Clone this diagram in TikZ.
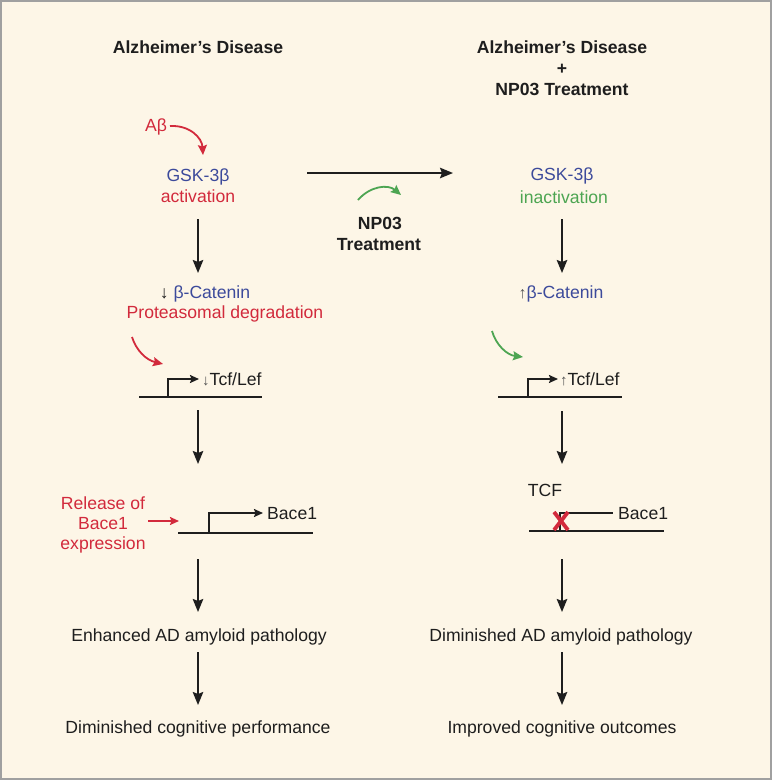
\documentclass[tikz,border=0pt]{standalone}
\usepackage{fontspec}
\setmainfont{Liberation Sans}
\usetikzlibrary{arrows.meta}
\definecolor{bgc}{HTML}{FDF6E7}
\definecolor{framec}{HTML}{A0A0A0}
\definecolor{cblue}{HTML}{3C4A9B}
\definecolor{cred}{HTML}{D22A3C}
\definecolor{cgreen}{HTML}{4DA552}
\definecolor{ctext}{HTML}{1E1E1E}
\definecolor{cgrey}{HTML}{555555}
\begin{document}
\begin{tikzpicture}[x=1pt,y=-1pt,
  lbl/.style={inner sep=0pt,anchor=base,text=ctext,font=\fontsize{17.6}{21}\selectfont},
  ttl/.style={lbl,font=\fontsize{17.6}{21}\selectfont\bfseries},
  flow/.style={draw=ctext,line width=1.8pt,-{Stealth[length=13pt,width=10.5pt,inset=2pt]}},
  curv/.style={line width=1.8pt,-{Stealth[length=10pt,width=9pt,inset=1.5pt]}},
  dna/.style={draw=ctext,line width=1.8pt},
  tss/.style={dna,-{Stealth[length=9pt,width=8pt,inset=1.5pt]}},
]
\fill[bgc] (0,0) rectangle (772,780);
\draw[framec,line width=2pt] (1,1) rectangle (771,779);
\useasboundingbox (0,0) rectangle (772,780);

% ---------- left column ----------
\node[ttl] (tL) at (198,53) {Alzheimer’s Disease};
\node[lbl,text=cred] (ab) at (156,131) {Aβ};
\node[lbl,text=cblue] (gskL) at (198,181) {GSK-3β};
\node[lbl,text=cred] (actL) at (198,202) {activation};
\node[lbl] (catL) at (205,298) {↓ \textcolor{cblue}{β-Catenin}};
\node[lbl,text=cred] (protL) at (225,318) {Proteasomal degradation};

\coordinate (abS) at (170,126);
\coordinate (abE) at (203,155);
\draw[curv,cred] (abS) .. controls (190,125) and (202,138) .. (abE);

\coordinate (fL1s) at (198,219); \coordinate (fL1e) at (198,273);
\draw[flow] (fL1s) -- (fL1e);

\coordinate (rdS) at (132,337); \coordinate (rdE) at (163,364);
\draw[curv,cred] (rdS) .. controls (136,350) and (146,360) .. (rdE);

\coordinate (dL1a) at (139,397); \coordinate (dL1b) at (262,397);
\draw[dna] (dL1a) -- (dL1b);
\coordinate (tssL1) at (168,397); \coordinate (tssL1e) at (199,379);
\draw[tss] (tssL1) |- (tssL1e);
\node[lbl,anchor=base west] (tcfL) at (202,385) {\textcolor{cgrey}{\fontsize{15}{15}\selectfont ↓}Tcf/Lef};

\coordinate (fL2s) at (198,410); \coordinate (fL2e) at (198,464);
\draw[flow] (fL2s) -- (fL2e);

\node[lbl,text=cred] (rel1) at (103,509) {Release of};
\node[lbl,text=cred] (rel2) at (103,529) {Bace1};
\node[lbl,text=cred] (rel3) at (103,549) {expression};
\coordinate (relS) at (148,521); \coordinate (relE) at (179,521);
\draw[line width=1.8pt,cred,-{Stealth[length=9pt,width=8pt,inset=1.5pt]}] (relS) -- (relE);

\coordinate (dL2a) at (178,533); \coordinate (dL2b) at (313,533);
\draw[dna] (dL2a) -- (dL2b);
\coordinate (tssL2) at (209,533); \coordinate (tssL2e) at (263,513);
\draw[tss] (tssL2) |- (tssL2e);
\node[lbl,anchor=base west] (baceL) at (267,519) {Bace1};

\coordinate (fL3s) at (198,559); \coordinate (fL3e) at (198,612);
\draw[flow] (fL3s) -- (fL3e);
\node[lbl] (enh) at (199,641) {Enhanced AD amyloid pathology};
\coordinate (fL4s) at (198,652); \coordinate (fL4e) at (198,705);
\draw[flow] (fL4s) -- (fL4e);
\node[lbl] (dimc) at (198,733) {Diminished cognitive performance};

% ---------- middle ----------
\coordinate (hS) at (307,173); \coordinate (hE) at (453,173);
\draw[flow] (hS) -- (hE);
\coordinate (gS) at (358,200); \coordinate (gE) at (401,195);
\draw[curv,cgreen] (gS) .. controls (370,186) and (388,184) .. (gE);
\node[ttl] (np1) at (380,229) {NP03};
\node[ttl] (np2) at (379,250) {Treatment};

% ---------- right column ----------
\node[ttl] (tR1) at (562,53) {Alzheimer’s Disease};
\node[ttl] (tR2) at (562,74) {+};
\node[ttl] (tR3) at (562,95) {NP03 Treatment};
\node[lbl,text=cblue] (gskR) at (562,180) {GSK-3β};
\node[lbl,text=cgreen] (inR) at (564,203) {inactivation};
\coordinate (fR1s) at (562,219); \coordinate (fR1e) at (562,273);
\draw[flow] (fR1s) -- (fR1e);
\node[lbl,text=cblue] (catR) at (561,298) {\textcolor{cgrey}{\fontsize{16}{16}\selectfont ↑}β-Catenin};

\coordinate (grS) at (492,331); \coordinate (grE) at (523,357);
\draw[curv,cgreen] (grS) .. controls (496,345) and (507,355) .. (grE);

\coordinate (dR1a) at (498,397); \coordinate (dR1b) at (622,397);
\draw[dna] (dR1a) -- (dR1b);
\coordinate (tssR1) at (528,397); \coordinate (tssR1e) at (558,379);
\draw[tss] (tssR1) |- (tssR1e);
\node[lbl,anchor=base west] (tcfR) at (560,385) {\textcolor{cgrey}{\fontsize{15}{15}\selectfont ↑}Tcf/Lef};

\coordinate (fR2s) at (562,411); \coordinate (fR2e) at (562,464);
\draw[flow] (fR2s) -- (fR2e);

\node[lbl] (tcfBig) at (545,496) {TCF};
\coordinate (dR2a) at (529,531); \coordinate (dR2b) at (664,531);
\draw[dna] (dR2a) -- (dR2b);
\coordinate (tssR2) at (560,531); \coordinate (tssR2e) at (613,513);
\draw[dna] (tssR2) |- (tssR2e);
\node[lbl,anchor=base west] (baceR) at (618,519) {Bace1};
\coordinate (xa) at (554,512); \coordinate (xb) at (568,530);
\coordinate (xc) at (568,512); \coordinate (xd) at (554,530);
\draw[cred,line width=3.8pt] (xa) -- (xb) (xc) -- (xd);

\coordinate (fR3s) at (562,559); \coordinate (fR3e) at (562,612);
\draw[flow] (fR3s) -- (fR3e);
\node[lbl] (dimA) at (561,641) {Diminished AD amyloid pathology};
\coordinate (fR4s) at (562,652); \coordinate (fR4e) at (562,705);
\draw[flow] (fR4s) -- (fR4e);
\node[lbl] (impr) at (562,733) {Improved cognitive outcomes};
\end{tikzpicture}
\end{document}
